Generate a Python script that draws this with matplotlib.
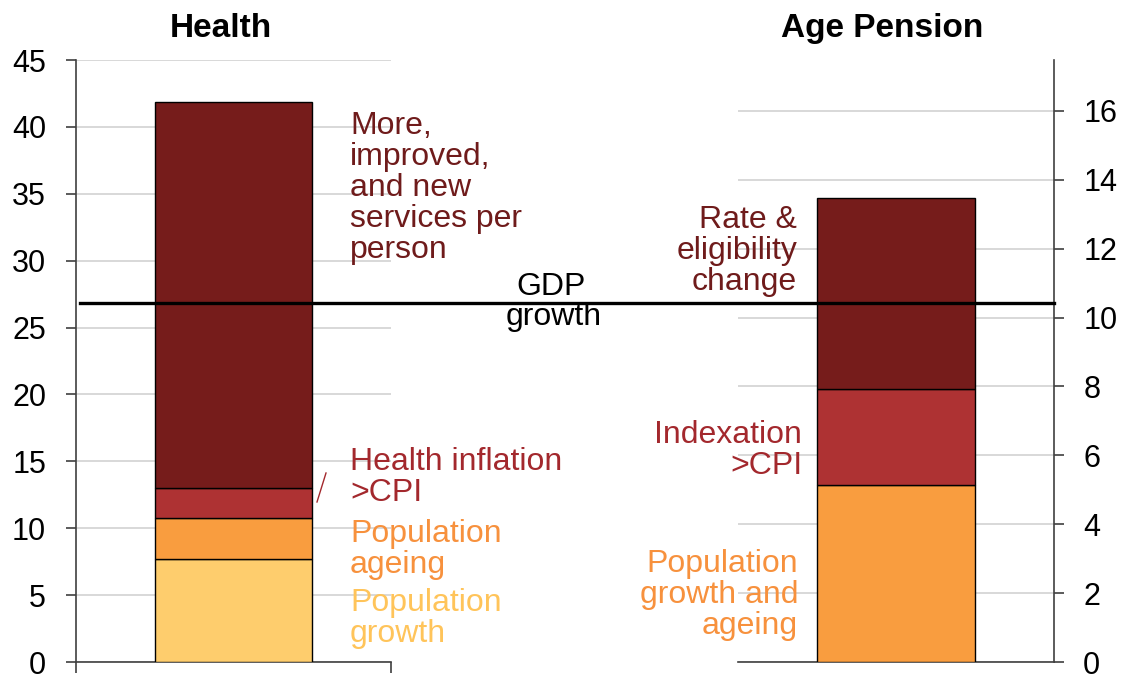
import matplotlib
matplotlib.use("Agg")
import matplotlib.pyplot as plt
from matplotlib.lines import Line2D
from matplotlib.transforms import blended_transform_factory

plt.rcParams['font.family'] = ['Liberation Sans', 'DejaVu Sans']

# Data
health_labels = ["Population\ngrowth", "Population\nageing", "Health inflation\n>CPI",
                 "More,\nimproved,\nand new\nservices per\nperson"]
health_values = [7.70, 3.06, 2.24, 28.86]
pension_labels = ["Population\ngrowth and\nageing", "Indexation\n>CPI", "Rate &\neligibility\nchange"]
pension_values = [5.14, 2.79, 5.54]
gdp_growth_health = 26.86
health_ymax = 45
pension_ymax = 17.48

health_colors = ['#fecd6d', '#f99d3f', '#ae3233', '#761c1b']
health_text_colors = ['#ffc45a', '#f7913d', '#a3282d', '#6f1b1b']
pension_colors = ['#f99d3f', '#ae3233', '#761c1b']
pension_text_colors = ['#f7913d', '#a3282d', '#6f1b1b']

W, H = 1124, 677
fig = plt.figure(figsize=(W / 100, H / 100), dpi=100)

def fx(px):
    return px / W

def fy(py):
    return 1 - py / H

ax1 = fig.add_axes([fx(76), fy(662), fx(391) - fx(76), fy(60) - fy(662)])
ax2 = fig.add_axes([fx(738), fy(662), fx(1054) - fx(738), fy(60) - fy(662)])
ax2.patch.set_visible(False)

grid_col = '#d6d6d6'
spine_col = '#404040'
fs_tick = 22
fs_ann = 23
fs_title = 24
lsp = 1.04

# Health panel
bottom = 0
for v, c in zip(health_values, health_colors):
    ax1.bar(0.5, v, width=0.5, bottom=bottom, color=c, edgecolor='black', linewidth=1, zorder=3)
    bottom += v
ax1.set_xlim(0, 1)
ax1.set_ylim(0, health_ymax)
ax1.set_yticks(range(0, 46, 5))
ax1.yaxis.grid(True, color=grid_col, linewidth=1.3, zorder=0)
ax1.set_axisbelow(True)
ax1.set_xticks([0, 1])
ax1.set_xticklabels([])
ax1.tick_params(axis='x', direction='out', length=8, width=1.2, color=spine_col)
ax1.tick_params(axis='y', direction='out', length=7.5, width=1.2, color=spine_col,
                labelsize=fs_tick, pad=14)
for s in ['top', 'right']:
    ax1.spines[s].set_visible(False)
for s in ['left', 'bottom']:
    ax1.spines[s].set_color(spine_col)
    ax1.spines[s].set_linewidth(1.2)

# Pension panel
bottom = 0
for v, c in zip(pension_values, pension_colors):
    ax2.bar(0.5, v, width=0.5, bottom=bottom, color=c, edgecolor='black', linewidth=1, zorder=3)
    bottom += v
ax2.set_xlim(0, 1)
ax2.set_ylim(0, pension_ymax)
ax2.set_yticks(range(0, 17, 2))
ax2.yaxis.grid(True, color=grid_col, linewidth=1.3, zorder=0)
ax2.set_axisbelow(True)
ax2.set_xticks([])
ax2.yaxis.tick_right()
ax2.tick_params(axis='y', direction='out', length=7, width=1.2, color=spine_col,
                labelsize=fs_tick, pad=14)
for s in ['top', 'left']:
    ax2.spines[s].set_visible(False)
for s in ['right', 'bottom']:
    ax2.spines[s].set_color(spine_col)
    ax2.spines[s].set_linewidth(1.2)

# GDP growth line spanning both panels
tr = blended_transform_factory(fig.transFigure, ax1.transData)
fig.add_artist(Line2D([fx(80), fx(1054)], [gdp_growth_health, gdp_growth_health],
                      color='black', linewidth=2.4, transform=tr, zorder=10))
fig.text(fx(551), fy(295), "GDP", ha='center', va='baseline', fontsize=fs_ann, color='black')
fig.text(fx(554), fy(325), "growth", ha='center', va='baseline', fontsize=fs_ann, color='black')

# Titles
fig.text(fx(220.5), fy(37), "Health", ha='center', va='baseline', fontsize=fs_title,
         fontweight='bold')
fig.text(fx(882), fy(37), "Age Pension", ha='center', va='baseline', fontsize=fs_title,
         fontweight='bold')

# Health annotations (left aligned, y = last-line baseline)
health_label_y = [642, 573, 501, 258]
for lab, col, y in zip(health_labels, health_text_colors, health_label_y):
    fig.text(fx(350), fy(y), lab, ha='left', va='baseline', fontsize=fs_ann, color=col,
             linespacing=lsp)
fig.add_artist(Line2D([fx(317), fx(326)], [fy(502), fy(473)], color='#a3282d', linewidth=1))

# Pension annotations (right aligned)
pension_label_y = [634, 474, 290]
pension_label_x = [798, 802, 797]
for lab, col, y, x in zip(pension_labels, pension_text_colors, pension_label_y, pension_label_x):
    fig.text(fx(x), fy(y), lab, ha='right', va='baseline', fontsize=fs_ann, color=col,
             linespacing=lsp)

fig.savefig("out.png", dpi=100)
